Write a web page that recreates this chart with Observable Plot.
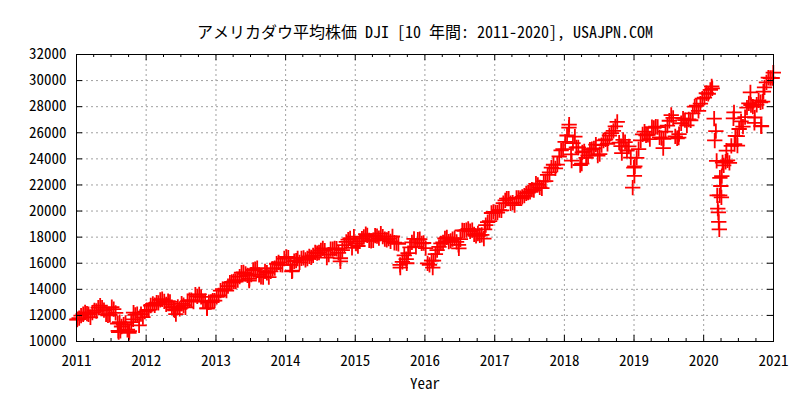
<!DOCTYPE html>
<html><head><meta charset="utf-8">
<script src="https://cdn.jsdelivr.net/npm/d3@7"></script>
<script src="https://cdn.jsdelivr.net/npm/@observablehq/plot@0.6"></script>
<style>body{margin:0;background:#fff}</style>
</head><body><div id="chart"></div>
<script>
const titleText = "アメリカダウ平均株価 DJI [10 年間: 2011-2020], USAJPN.COM";
const xLabel = "Year";
const sampleDays = [5, 15, 25];
const years = [2011, 2012, 2013, 2014, 2015, 2016, 2017, 2018, 2019, 2020];
const dow2011 = [11700,11790,11980, 12090,12230,12130, 12090,11860,12220, 12390,12340,12600, 12750,12600,12400, 12090,12000,12040, 12630,12480,12190, 11380,11480,11150, 11300,11430,10900, 10800,11480,11700, 12040,12100,11230, 12100,11870,12290];
const dow2012 = [12410,12420,12760, 12880,12780,12980, 12960,13190,13240, 13070,12850,13090, 13040,12630,12450, 12100,12650,12500, 12900,12780,12620, 13090,13160,13160, 13050,13590,13460, 13610,13420,13080, 13100,12540,13010, 13030,13140,13140];
const dow2013 = [13430,13540,13900, 14020,13980,13900, 14250,14510,14560, 14600,14600,14700, 14970,15270,15300, 15180,15070,14800, 15130,15480,15550, 15630,15110,14950, 14940,15380,15270, 14930,15370,15570, 15620,15960,16060, 15890,15880,16360];
const dow2014 = [16480,16420,15880, 15440,16150,16200, 16360,16070,16370, 16410,16260,16360, 16530,16450,16600, 16830,16780,16820, 16990,17140,16960, 16430,16660,17080, 17080,17130,17110, 16800,16380,17000, 17380,17630,17810, 17900,17180,18030];
const dow2015 = [17500,17320,17680, 17880,18020,18220, 18130,17750,17720, 17760,18110,18080, 17930,18270,18040, 17850,17790,17890, 17680,18050,17570, 17540,17480,15670, 16100,16600,16310, 16780,17210,17600, 17870,17250,17810, 17850,17520,17550];
const dow2016 = [17160,15990,15880, 16200,16200,16700, 17010,17250,17520, 17600,17900,17980, 17660,17710,17850, 17920,17640,17400, 17840,18520,18490, 18540,18640,18450, 18540,18210,18090, 18280,18140,18170, 17890,18920,19150, 19220,19850,19930];
const dow2017 = [19900,19890,20070, 20050,20610,20820, 20950,20950,20600, 20650,20450,21000, 21010,20980,21080, 21180,21360,21410, 21480,21640,21610, 22090,22000,21810, 21750,22270,22300, 22780,22960,23330, 23550,23270,23560, 24180,24650,24750];
const dow2018 = [25300,25790,26390, 24350,25200,25710, 24880,24870,23530, 24500,24570,24080, 24260,24710,24750, 24800,25090,24250, 24360,25060,25410, 25500,25160,25790, 25980,26150,26490, 26830,25250,24980, 25460,25290,24640, 24950,24100,21790];
const dow2019 = [23430,24070,24740, 25410,25880,26090, 25810,25850,25520, 26430,26380,26460, 26440,25650,25590, 25540,26090,26550, 26920,27360,27140, 25720,25580,25900, 26730,27080,26970, 26570,27020,26960, 27490,28000,28070, 27680,28240,28620];
const dow2020 = [28700,29030,28990, 29290,29400,27080, 26120,20190,21200, 22680,23500,23780, 23880,23690,25000, 27110,25760,25750, 26290,26870,26470, 27200,27930,28250, 28130,28000,27170, 28150,28490,28340, 28390,29480,29870, 30220,30200,30200];
const extraDates = ["2011-01-03","2011-08-08","2011-08-10","2011-08-19","2011-10-03","2011-10-27","2012-05-31","2012-11-15","2013-06-24","2014-02-03","2014-10-15","2015-08-24","2015-09-28","2016-02-11","2016-06-27","2016-11-09","2018-01-26","2018-02-08","2018-04-02","2018-10-29","2018-12-31","2019-01-03","2019-06-03","2019-08-23","2020-02-12","2020-02-28","2020-03-09","2020-03-12","2020-03-18","2020-03-20","2020-03-23","2020-03-26","2020-03-31","2020-04-03","2020-04-09","2020-04-29","2020-06-08","2020-06-11","2020-06-26","2020-09-02","2020-09-23","2020-10-28","2020-10-30","2020-11-09","2020-12-31"];
const extraValues = [11670,10810,10720,10820,10660,12210,12390,12540,14660,15370,16140,15870,16000,15660,17140,18590,26620,23860,23640,24440,23330,22690,24820,25630,29550,25410,23850,21200,19900,19170,18590,22550,21920,21050,23720,24630,27570,25130,25020,29100,26760,26520,26500,29160,30610];
const yTicks = [10000,12000,14000,16000,18000,20000,22000,24000,26000,28000,30000,32000];
const xTickYears = [2011,2012,2013,2014,2015,2016,2017,2018,2019,2020,2021];

const series = [dow2011, dow2012, dow2013, dow2014, dow2015, dow2016, dow2017, dow2018, dow2019, dow2020];
const data = [];
years.forEach((y, yi) => {
  series[yi].forEach((v, i) => {
    data.push({date: new Date(Date.UTC(y, Math.floor(i / 3), sampleDays[i % 3])), value: v});
  });
});
extraDates.forEach((d, i) => data.push({date: new Date(d + "T00:00:00Z"), value: extraValues[i]}));
data.sort((a, b) => a.date - b.date);

const yearDates = xTickYears.map(y => new Date(Date.UTC(y, 0, 1)));
const quarterDates = [];
xTickYears.slice(0, -1).forEach(y => [3, 6, 9].forEach(m => quarterDates.push(new Date(Date.UTC(y, m, 1)))));

const W = 800, H = 400, mL = 76, mR = 27, mT = 54, mB = 59;
const pw = W - mL - mR, ph = H - mT - mB;
const gridStyle = {stroke: "#a0a0a0", strokeOpacity: 1, strokeDasharray: "2,3", strokeWidth: 1};
const font = "'Noto Sans Mono CJK JP', 'Noto Sans CJK JP', 'DejaVu Sans Mono', monospace";

const chart = Plot.plot({
  width: W, height: H,
  marginLeft: mL, marginRight: mR, marginTop: mT, marginBottom: mB,
  style: {fontFamily: font, fontSize: "15px", background: "#fff", color: "#000"},
  x: {type: "utc", domain: [yearDates[0], yearDates[yearDates.length - 1]]},
  y: {domain: [10000, 32000]},
  marks: [
    Plot.gridX(yearDates.slice(1, -1), gridStyle),
    Plot.gridY(yTicks.slice(1, -1), gridStyle),
    Plot.dot(data, {x: "date", y: "value", symbol: "plus", r: 5, stroke: "#ff0000", strokeWidth: 1.8}),
    Plot.tickX(yearDates, {x: d => d, stroke: "black", insetTop: ph - 6}),
    Plot.tickX(yearDates, {x: d => d, stroke: "black", insetBottom: ph - 6}),
    Plot.tickX(quarterDates, {x: d => d, stroke: "black", insetTop: ph - 3}),
    Plot.tickX(quarterDates, {x: d => d, stroke: "black", insetBottom: ph - 3}),
    Plot.tickY(yTicks, {y: d => d, stroke: "black", insetRight: pw - 6}),
    Plot.tickY(yTicks, {y: d => d, stroke: "black", insetLeft: pw - 6}),
    Plot.frame({stroke: "black", strokeWidth: 1}),
    Plot.axisX(yearDates, {tickSize: 0, tickPadding: 14, tickFormat: d => String(d.getUTCFullYear()), label: null, fontSize: 15}),
    Plot.axisY(yTicks, {tickSize: 0, tickPadding: 10, tickFormat: d => String(d), label: null, fontSize: 15}),
    Plot.text([titleText], {frameAnchor: "top", dy: -28, fontSize: 16, fill: "black"}),
    Plot.text([xLabel], {frameAnchor: "bottom", dy: 47, fontSize: 15, fill: "black"})
  ]
});
document.getElementById("chart").appendChild(chart);
</script>
</body></html>
